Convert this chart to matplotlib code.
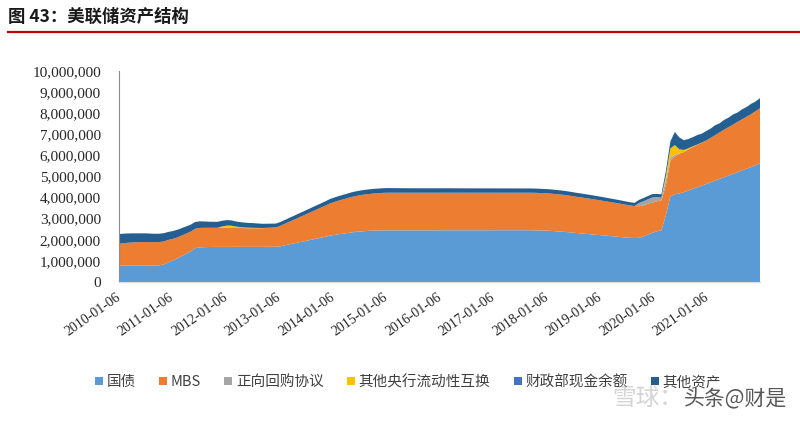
import matplotlib
matplotlib.use("Agg")
import matplotlib.pyplot as plt
import matplotlib.dates as mdates
from matplotlib.patches import Patch
from matplotlib.ticker import FuncFormatter, FixedLocator
from matplotlib.lines import Line2D
import pandas as pd
import numpy as np

plt.rcParams['font.family'] = ['Noto Sans CJK SC', 'DejaVu Sans']

# ---- data (monthly snapshots, billions of USD; axis is in millions) ----
series_names = ["国债", "MBS", "正向回购协议", "其他央行流动性互换", "财政部现金余额", "其他资产"]
series_colors = ["#5B9BD5", "#ED7D31", "#A5A5A5", "#FFC000", "#4472C4", "#255E91"]

treasury = [
    777, 777, 777, 777, 777, 777, 777, 777, 777, 790, 830, 930,
    1020, 1120, 1230, 1340, 1450, 1600, 1640, 1650, 1655, 1660, 1663, 1663,
    1663, 1663, 1664, 1664, 1665, 1665, 1665, 1665, 1665, 1666, 1666, 1666,
    1690, 1735, 1780, 1825, 1870, 1915, 1960, 2005, 2050, 2095, 2140, 2190,
    2225, 2260, 2290, 2320, 2350, 2375, 2395, 2410, 2425, 2435, 2440, 2445,
    2445, 2445, 2445, 2445, 2445, 2445, 2445, 2445, 2445, 2445, 2445, 2445,
    2448, 2448, 2448, 2448, 2448, 2448, 2448, 2448, 2448, 2448, 2448, 2448,
    2450, 2450, 2450, 2450, 2450, 2450, 2450, 2450, 2450, 2445, 2440, 2435,
    2425, 2410, 2395, 2380, 2360, 2340, 2320, 2300, 2280, 2262, 2245, 2225,
    2205, 2185, 2165, 2145, 2125, 2105, 2090, 2080, 2090, 2150, 2250, 2330,
    2400, 2450, 3150, 4050, 4150, 4190, 4250, 4330, 4410, 4480, 4560, 4640,
    4720, 4800, 4880, 4960, 5040, 5120, 5200, 5280, 5360, 5440, 5530, 5620,
]
mbs = [
    1030, 1060, 1080, 1095, 1105, 1110, 1115, 1110, 1105, 1100, 1090, 1060,
    1020, 990, 970, 950, 935, 920, 920, 915, 910, 905, 905, 905,
    905, 900, 895, 890, 885, 880, 880, 880, 880, 890, 900, 910,
    970, 1020, 1070, 1120, 1170, 1220, 1270, 1320, 1370, 1420, 1470, 1520,
    1560, 1590, 1620, 1650, 1680, 1700, 1720, 1735, 1745, 1755, 1765, 1775,
    1780, 1780, 1780, 1780, 1780, 1780, 1780, 1780, 1780, 1780, 1780, 1780,
    1778, 1778, 1778, 1778, 1778, 1778, 1778, 1778, 1778, 1778, 1778, 1778,
    1775, 1775, 1775, 1775, 1775, 1775, 1775, 1775, 1775, 1775, 1770, 1765,
    1765, 1760, 1755, 1750, 1740, 1730, 1715, 1705, 1695, 1680, 1665, 1650,
    1635, 1620, 1605, 1590, 1575, 1555, 1535, 1515, 1495, 1470, 1450, 1430,
    1420, 1410, 1420, 1680, 1800, 1880, 1900, 1940, 1980, 2010, 2030, 2050,
    2100, 2150, 2200, 2250, 2290, 2330, 2380, 2420, 2460, 2500, 2550, 2600,
]
repo = [0] * 116 + [150, 200, 210, 240,
                    200, 140, 250, 150, 80, 10, 0, 0, 0, 0, 0, 0,
                    0, 0, 0, 0, 0, 0, 0, 0, 0, 0, 0, 0]
swaps = (
    [0] * 12 +
    [0, 0, 0, 0, 0, 0, 0, 0, 0, 0, 0, 60] +
    [100, 105, 70, 45, 30, 25, 20, 15, 10, 8, 5, 5] +
    [0] * 84 +
    [0, 0, 200, 440, 450, 200, 100, 55, 30, 15, 8, 5] +
    [1] * 12
)
treasury_cash = [0] * 144
other = [
    460, 450, 440, 430, 420, 415, 410, 405, 400, 395, 390, 380,
    370, 360, 350, 340, 330, 320, 310, 300, 290, 285, 280, 270,
    260, 250, 240, 235, 230, 225, 220, 210, 200, 195, 190, 185,
    180, 180, 185, 185, 190, 190, 195, 195, 200, 200, 205, 210,
    212, 214, 216, 218, 220, 220, 220, 220, 220, 220, 220, 220,
    220, 218, 216, 215, 214, 212, 212, 210, 210, 210, 210, 210,
    210, 210, 210, 208, 208, 206, 206, 205, 205, 205, 205, 205,
    205, 205, 205, 205, 204, 204, 203, 203, 202, 202, 200, 200,
    200, 198, 196, 194, 192, 190, 188, 186, 184, 182, 180, 178,
    176, 172, 168, 164, 160, 156, 152, 150, 150, 155, 160, 160,
    150, 150, 230, 330, 620, 560, 460, 440, 430, 450, 420, 450,
    440, 470, 430, 460, 450, 480, 440, 470, 460, 490, 460, 480,
]
start_date, end_date = "2010-01-06", "2021-12-29"
tick_labels = [f"{y}-01-06" for y in range(2010, 2022)]
yticks = list(range(0, 10_000_001, 1_000_000))

# ---- figure ----
dates = pd.date_range(start_date, end_date, periods=len(treasury))
stack = [np.array(s) * 1000 for s in (treasury, mbs, repo, swaps, treasury_cash, other)]

fig = plt.figure(figsize=(8, 4.23), dpi=100)
ax = fig.add_axes([119 / 800, 1 - 282 / 423, (760 - 119) / 800, (282 - 70.7) / 423])
ax.stackplot(dates, *stack, colors=series_colors, labels=series_names, linewidth=0)

ax.set_xlim(pd.Timestamp(start_date), pd.Timestamp(end_date))
ax.set_ylim(0, 10_000_000)
ax.yaxis.set_major_locator(FixedLocator(yticks))
ax.yaxis.set_major_formatter(FuncFormatter(lambda v, p: f"{int(v):,}"))
ticks = [mdates.date2num(pd.Timestamp(t)) for t in tick_labels]
ax.set_xticks(ticks)
ax.set_xticklabels(tick_labels)

for lab in ax.get_yticklabels():
    lab.set_fontfamily("Liberation Serif")
    lab.set_fontsize(11)
    lab.set_color("#262626")
for lab in ax.get_xticklabels():
    lab.set_fontfamily("Liberation Serif")
    lab.set_fontsize(10)
    lab.set_color("#262626")
    lab.set_rotation(35)
    lab.set_ha("right")
    lab.set_va("center")
    lab.set_rotation_mode("anchor")

ax.tick_params(axis="both", length=0)
ax.tick_params(axis="y", pad=13)
ax.tick_params(axis="x", pad=10)
for s in ("top", "right"):
    ax.spines[s].set_visible(False)
ax.spines["left"].set_color("#8c8c8c")
ax.spines["left"].set_linewidth(0.8)
ax.spines["bottom"].set_color("#d9d9d9")
ax.spines["bottom"].set_linewidth(0.8)

handles = [Patch(facecolor=c, edgecolor="none") for c in series_colors]
fig.legend(handles, series_names, loc="center", bbox_to_anchor=(0.51, 1 - 382 / 423),
           ncol=6, frameon=False, fontsize=10.5, handlelength=0.55, handleheight=0.55,
           handletextpad=0.25, columnspacing=1.6, labelcolor="#404040")

# title and rule
fig.text(8 / 800, 1 - 17 / 423, "图 43：美联储资产结构", fontsize=12.5, fontweight="bold",
         va="center", ha="left", color="#1a1a1a")
fig.add_artist(Line2D([8 / 800, 1.0], [1 - 32 / 423, 1 - 32 / 423], color="#C00000",
                      linewidth=1.6, transform=fig.transFigure))

# watermark
fig.text(612 / 800, 1 - 398 / 423, "雪球：", fontsize=17, color="#d4d4d4", va="center", ha="left")
fig.text(684 / 800, 1 - 398 / 423, "头条@财是", fontsize=15, color="#3a3a3a", alpha=0.85,
         va="center", ha="left")

fig.savefig("out.png", dpi=100)
